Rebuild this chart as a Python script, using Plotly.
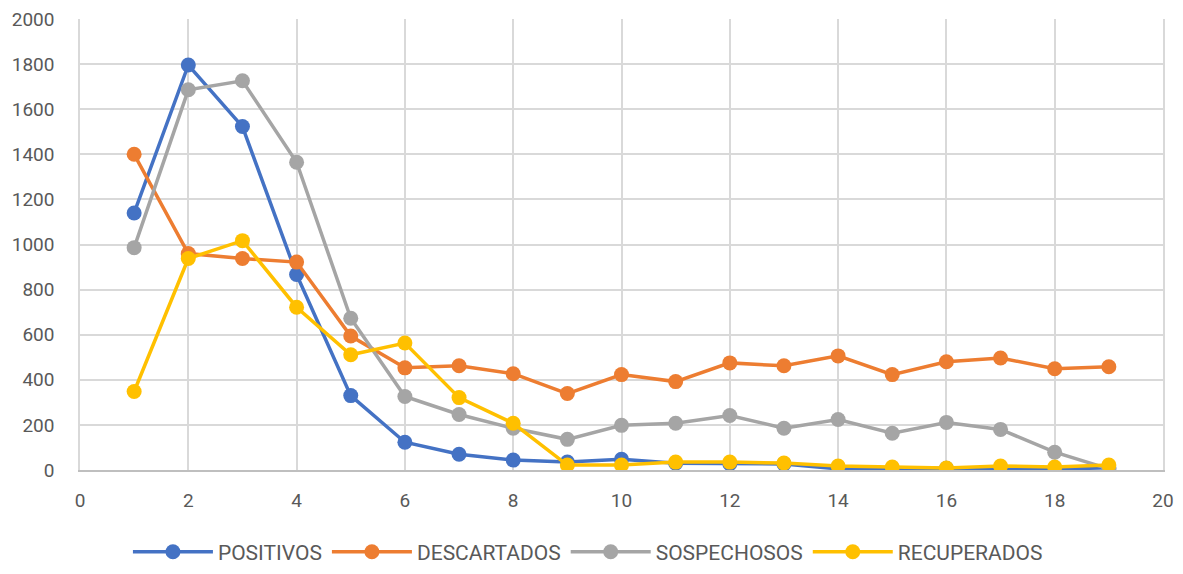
import plotly.graph_objects as go

x = list(range(1, 20))
positivos = [1140, 1796, 1523, 867, 330, 123, 70, 44, 35, 48, 30, 28, 27, 5, 8, 8, 8, 4, 10]
descartados = [1400, 960, 938, 922, 594, 453, 462, 427, 339, 423, 392, 475, 462, 506, 423, 480, 497, 449, 458]
sospechosos = [986, 1686, 1726, 1365, 673, 326, 246, 185, 136, 198, 207, 242, 185, 224, 163, 211, 180, 79, 5]
recuperados = [348, 938, 1017, 722, 511, 563, 321, 207, 22, 22, 35, 35, 31, 18, 13, 9, 18, 13, 22]

series = [
    ("POSITIVOS", positivos, "#4472C4"),
    ("DESCARTADOS", descartados, "#ED7D31"),
    ("SOSPECHOSOS", sospechosos, "#A5A5A5"),
    ("RECUPERADOS", recuperados, "#FFC000"),
]

fig = go.Figure()
for name, vals, color in series:
    fig.add_trace(go.Scatter(
        x=x, y=vals, name=name, mode="lines+markers",
        line=dict(color=color, width=3.5),
        marker=dict(color=color, size=15),
    ))

font_family = "Roboto, Arial, sans-serif"
fig.update_layout(
    width=1167, height=558,
    margin=dict(l=72, r=12, t=11, b=96),
    paper_bgcolor="white", plot_bgcolor="white",
    font=dict(family=font_family, size=19, color="#595959"),
    showlegend=True,
    legend=dict(orientation="h", x=0.469, xanchor="center",
                yref="container", y=0.025, yanchor="middle",
                font=dict(size=21, color="#595959"), itemwidth=80,
                tracegroupgap=0),
    xaxis=dict(range=[0, 20], dtick=2, showgrid=True, gridcolor="#D9D9D9", gridwidth=1.5,
               showline=True, linecolor="#BFBFBF", linewidth=1.5, mirror=False,
               zeroline=False, ticks="", ticklabelstandoff=12, automargin=False,
               ticklabeloverflow="allow"),
    yaxis=dict(range=[0, 2000], dtick=200, showgrid=True, gridcolor="#D9D9D9", gridwidth=1.5,
               showline=True, linecolor="#D9D9D9", linewidth=1.5, mirror=True,
               zeroline=False, ticks="", ticklabelstandoff=20, automargin=False,
               ticklabeloverflow="allow"),
)
fig.write_html("out.html")
